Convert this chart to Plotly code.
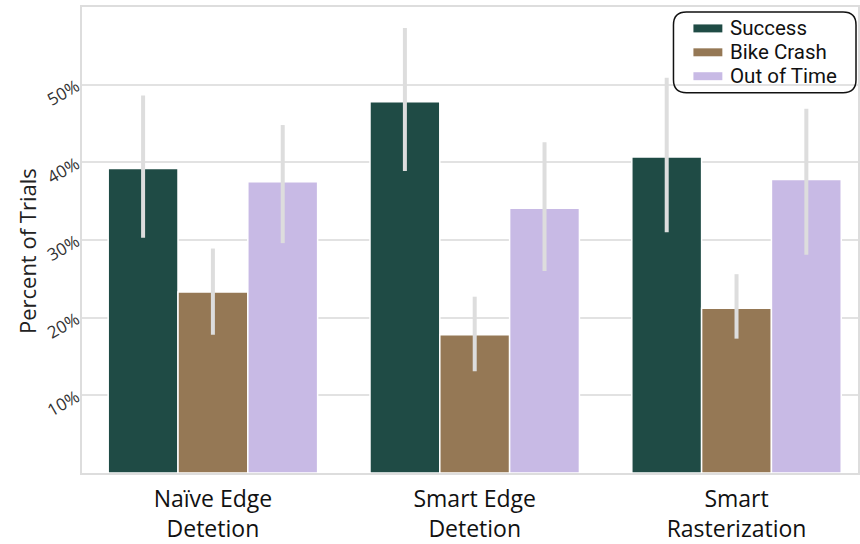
import plotly.graph_objects as go

# Trial outcomes per edge-detection method (fractions of all trials)
categories = ["Naïve Edge<br>Detetion", "Smart Edge<br>Detetion", "Smart<br>Rasterization"]
series_names = ["Success", "Bike Crash", "Out of Time"]

success = [0.392, 0.478, 0.407]
success_lo = [0.303, 0.389, 0.310]
success_hi = [0.486, 0.573, 0.509]

crash = [0.233, 0.178, 0.212]
crash_lo = [0.178, 0.131, 0.173]
crash_hi = [0.289, 0.227, 0.256]

out_of_time = [0.375, 0.341, 0.378]
oot_lo = [0.296, 0.260, 0.281]
oot_hi = [0.448, 0.426, 0.469]

colors = ["#1f4b45", "#957855", "#c8bae5"]

FONT = "Open Sans"
LEGEND_FONT = "Roboto"
W, H = 860, 544
ML, MR, MT, MB = 82, 0, 7, 69
PW, PH = W - ML - MR, H - MT - MB


def px(x):
    """Horizontal pixel -> paper coordinate."""
    return (x - ML) / PW


def py(y):
    """Vertical pixel (from top) -> paper coordinate."""
    return (H - MB - y) / PH


fig = go.Figure()
for name, vals, lo, hi, col in zip(
    series_names,
    [success, crash, out_of_time],
    [success_lo, crash_lo, oot_lo],
    [success_hi, crash_hi, oot_hi],
    colors,
):
    fig.add_trace(go.Bar(
        name=name,
        x=categories,
        y=vals,
        marker=dict(color=col, line=dict(color="white", width=1.5)),
        showlegend=False,
        error_y=dict(
            type="data",
            symmetric=False,
            array=[h - v for h, v in zip(hi, vals)],
            arrayminus=[v - l for v, l in zip(vals, lo)],
            color="#dddddd",
            thickness=4,
            width=0,
        ),
    ))

# Legend: rounded frame, colour swatches and labels
x0, x1, y0, y1 = px(675), px(858), py(93), py(12)
rx, ry = 13 / PW, 13 / PH
legend_frame = (
    f"M{x0+rx},{y0} L{x1-rx},{y0} Q{x1},{y0} {x1},{y0+ry} "
    f"L{x1},{y1-ry} Q{x1},{y1} {x1-rx},{y1} "
    f"L{x0+rx},{y1} Q{x0},{y1} {x0},{y1-ry} "
    f"L{x0},{y0+ry} Q{x0},{y0} {x0+rx},{y0} Z"
)
shapes = [dict(
    type="path", xref="paper", yref="paper", path=legend_frame,
    line=dict(color="#111111", width=1.5), fillcolor="rgba(0,0,0,0)",
)]
annotations = []
row_y = [28.5, 52.5, 76.5]
for name, col, yc in zip(series_names, colors, row_y):
    shapes.append(dict(
        type="rect", xref="paper", yref="paper",
        x0=px(695), x1=px(724), y0=py(yc + 4), y1=py(yc - 4),
        fillcolor=col, line=dict(width=0),
    ))
    annotations.append(dict(
        xref="paper", yref="paper", x=px(730), y=py(yc),
        xanchor="left", yanchor="middle", showarrow=False,
        text=name, font=dict(family=LEGEND_FONT, size=20.5, color="#111111"),
    ))

# Y-axis title, placed explicitly
annotations.append(dict(
    xref="paper", yref="paper", x=px(27), y=py(252),
    xanchor="center", yanchor="middle", showarrow=False, textangle=-90,
    text="Percent of Trials", font=dict(family=FONT, size=22, color="#222222"),
))

fig.update_layout(
    width=W,
    height=H,
    margin=dict(l=ML, r=MR, t=MT, b=MB),
    paper_bgcolor="white",
    plot_bgcolor="white",
    barmode="group",
    bargap=0.2,
    bargroupgap=0,
    font=dict(family=FONT, color="#222222"),
    showlegend=False,
    shapes=shapes,
    annotations=annotations,
    xaxis=dict(
        range=[-0.5, 2.464],
        showgrid=False,
        showline=True, linecolor="#dddddd", linewidth=2, mirror=True,
        ticks="",
        ticklabelstandoff=4,
        tickfont=dict(family=FONT, size=23, color="#111111"),
    ),
    yaxis=dict(
        range=[0, 0.6],
        tickvals=[0.1, 0.2, 0.3, 0.4, 0.5],
        tickformat=".0%",
        tickangle=-30,
        tickfont=dict(family=FONT, size=17, color="#333333"),
        showgrid=True, gridcolor="#e2e2e2", gridwidth=2,
        showline=True, linecolor="#dddddd", linewidth=2, mirror=True,
        zeroline=False,
        ticks="",
    ),
)

fig.write_html("out.html")
